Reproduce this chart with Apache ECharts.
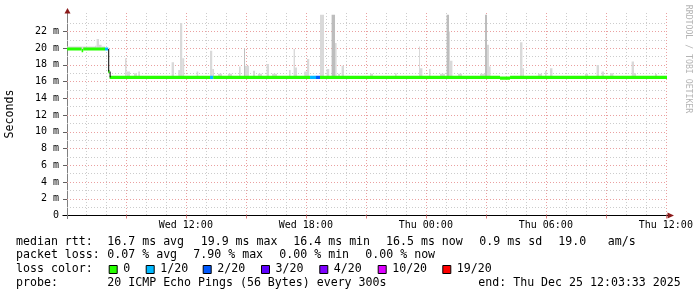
<!DOCTYPE html>
<html><head><meta charset="utf-8">
<script src="https://cdn.jsdelivr.net/npm/echarts@6/dist/echarts.min.js"></script>
<style>html,body{margin:0;padding:0;background:#fff}#c{width:697px;height:297px}</style>
</head><body><div id="c"></div>
<script>
// Time is expressed in hours since Wed 2025-12-24 00:00
const startHour = 6 + 3 / 60 + 33 / 3600;   // Wed 06:03:33
const endHour = 36 + 3 / 60 + 33 / 3600;    // Thu 12:03:33
const yMax = 24.2;

const xMajorHours = [9, 12, 15, 18, 21, 24, 27, 30, 33, 36];
const xMinorHours = [7, 8, 10, 11, 13, 14, 16, 17, 19, 20, 22, 23, 25, 26, 28, 29, 31, 32, 34, 35];
const xLabelHours = [12, 18, 24, 30, 36];
const xLabelTexts = ['Wed 12:00', 'Wed 18:00', 'Thu 00:00', 'Thu 06:00', 'Thu 12:00'];
const yLabelValues = [0, 2, 4, 6, 8, 10, 12, 14, 16, 18, 20, 22];
const yLabelTexts = ['0', '2 m', '4 m', '6 m', '8 m', '10 m', '12 m', '14 m', '16 m', '18 m', '20 m', '22 m'];
const yMajorGrid = [2, 4, 6, 8, 10, 12, 14, 16, 18, 20, 22];
const yMinorGrid = [1, 3, 5, 7, 9, 11, 13, 15, 17, 19, 21, 23];

// median rtt steps: [start hour, median ms, loss colour index]
const medianSteps = [
  [startHour, 19.9, 0], [6.79, 19.7, 0], [6.87, 19.9, 0], [7.96, 19.9, 1],
  [8.12, 17.2, 0], [8.19, 16.5, 0], [13.21, 16.5, 1], [13.37, 16.5, 0],
  [18.21, 16.5, 1], [18.51, 16.5, 2], [18.71, 16.5, 0], [27.71, 16.42, 0],
  [28.21, 16.5, 0]
];

// smoke (ping spread): [start hour, end hour, top ms]
const smokeLight = [
  [6.06, 7.46, 20.2], [7.46, 7.54, 20.3], [7.54, 7.66, 21.1], [7.66, 7.79, 20.4], [7.79, 7.96, 20.2],
  [8.96, 9.04, 18.8], [9.04, 9.21, 17.2], [9.41, 9.56, 17.0], [9.62, 9.71, 17.2],
  [11.29, 11.41, 18.3], [11.62, 11.71, 17.4], [11.71, 11.82, 23.0], [11.82, 11.92, 18.8],
  [12.54, 12.62, 17.2], [13.21, 13.32, 19.7], [13.32, 13.41, 17.5], [13.61, 13.81, 16.95],
  [14.11, 14.31, 16.95], [14.66, 14.74, 17.8], [14.96, 15.16, 17.9], [15.36, 15.46, 17.3],
  [15.61, 15.81, 16.95], [16.04, 16.16, 18.1], [16.31, 16.56, 16.95], [17.16, 17.24, 17.4],
  [17.39, 17.46, 19.9], [17.46, 17.56, 17.7], [17.92, 18.06, 17.2], [18.06, 18.17, 18.7],
  [18.71, 18.91, 24.0], [19.04, 19.17, 17.5], [19.46, 19.54, 20.6], [19.61, 19.71, 16.95],
  [19.79, 19.91, 17.9], [21.21, 21.36, 16.95], [22.46, 22.54, 17.0], [23.66, 23.71, 20.2],
  [23.71, 23.83, 17.6], [24.16, 24.24, 17.5], [24.71, 24.96, 16.95], [25.16, 25.21, 22.0],
  [25.21, 25.33, 18.5], [25.61, 25.81, 16.95], [26.71, 26.96, 16.95], [27.04, 27.16, 20.4],
  [27.16, 27.24, 17.8], [28.71, 28.83, 20.7], [28.83, 28.91, 17.6], [29.61, 29.81, 16.95],
  [29.96, 30.04, 17.3], [30.21, 30.33, 17.6], [31.96, 32.11, 16.95], [32.54, 32.66, 18.0],
  [32.79, 32.91, 17.2], [33.21, 33.38, 17.0], [34.29, 34.41, 18.4], [34.41, 34.51, 17.0],
  [35.46, 35.56, 16.9]
];
const smokeDense = [
  [14.91, 14.96, 20.0], [19.29, 19.46, 24.0], [25.04, 25.16, 24.0], [26.96, 27.06, 24.0]
];

const lossColors = ['#26ff00', '#00b8ff', '#0059ff', '#5e00ff', '#7e00ff', '#dd00ff', '#ff0000'];
const lossLabels = ['0', '1/20', '2/20', '3/20', '4/20', '10/20', '19/20'];

const legendRow1 = ['median rtt:', '16.7 ms avg', '19.9 ms max', '16.4 ms min', '16.5 ms now', '0.9 ms sd', '19.0', 'am/s'];
const legendRow2 = ['packet loss:', '0.07 % avg', '7.90 % max', '0.00 % min', '0.00 % now'];
const legendRow3Title = 'loss color:';
const legendRow4 = ['probe:', '20 ICMP Echo Pings (56 Bytes) every 300s', 'end: Thu Dec 25 12:03:33 2025'];
const yTitle = 'Seconds';
const watermark = 'RRDTOOL / TOBI OETIKER';

// ---- layout (pixel positions of legend text) ----
const row1X = [16, 107.3, 200.7, 293.3, 386, 479.3, 558.3, 607.7];
const row2X = [16, 107.3, 193.3, 279.3, 365.3];
const row4X = [16, 107.3, 478.3];
const boxX = [108.7, 145.7, 202.7, 261, 319.3, 377.7, 442.3];
const rowY = [241.7, 255.3, 269.3, 283];

const MONO = '"DejaVu Sans Mono", monospace';
const legFont = '11.6px ' + MONO;

function medianAt(t) {
  let v = medianSteps[0][1];
  for (const s of medianSteps) { if (s[0] <= t + 1e-6) v = s[1]; }
  return v;
}

const medianData = medianSteps.map((s, i) => [s[0], i + 1 < medianSteps.length ? medianSteps[i + 1][0] : endHour, s[1], s[2]]);
const smokeLightData = smokeLight.map(s => [s[0], s[1], s[2], medianAt(s[0])]);
const smokeDenseData = smokeDense.map(s => [s[0], s[1], s[2], medianAt(s[0])]);

function smokeRender(color) {
  return function (params, api) {
    const p0 = api.coord([api.value(0), api.value(2)]);
    const p1 = api.coord([api.value(1), api.value(3)]);
    return {
      type: 'rect',
      shape: { x: p0[0], y: p0[1], width: p1[0] - p0[0], height: p1[1] - p0[1] },
      style: { fill: color }
    };
  };
}

function medianRender(params, api) {
  const t0 = api.value(0), t1 = api.value(1), v = api.value(2), loss = api.value(3);
  const p0 = api.coord([t0, v]), p1 = api.coord([t1, v]);
  const children = [{
    type: 'rect',
    shape: { x: p0[0], y: p0[1] - 1.6, width: p1[0] - p0[0], height: 3.2 },
    style: { fill: lossColors[loss] }
  }];
  const i = params.dataIndex;
  if (i > 0) {
    const prev = medianSteps[i - 1][1];
    if (Math.abs(prev - v) > 0.3) {
      const pp = api.coord([t0, prev]);
      children.push({
        type: 'line',
        shape: { x1: p0[0] + 0.5, y1: pp[1], x2: p0[0] + 0.5, y2: p0[1] },
        style: { stroke: '#000', lineWidth: 1 }
      });
    }
  }
  return { type: 'group', children };
}

const graphics = [];
function addText(x, y, text) {
  graphics.push({ type: 'text', x: x, y: y, silent: true,
    style: { text: text, font: legFont, fill: '#000', verticalAlign: 'middle', align: 'left' } });
}
legendRow1.forEach((t, i) => addText(row1X[i], rowY[0], t));
legendRow2.forEach((t, i) => addText(row2X[i], rowY[1], t));
addText(16, rowY[2], legendRow3Title);
lossLabels.forEach((t, i) => {
  graphics.push({ type: 'rect', silent: true, shape: { x: boxX[i] + 0.5, y: rowY[2] - 3.8, width: 8, height: 8 },
    style: { fill: lossColors[i], stroke: '#000', lineWidth: 1 } });
  addText(boxX[i] + 14.5, rowY[2], t);
});
legendRow4.forEach((t, i) => addText(row4X[i], rowY[3], t));
graphics.push({ type: 'text', x: 10, y: 114, rotation: Math.PI / 2, silent: true,
  style: { text: yTitle, font: '11.6px ' + MONO, fill: '#000', align: 'center', verticalAlign: 'middle' } });
graphics.push({ type: 'text', x: 688, y: 59, rotation: -Math.PI / 2, silent: true,
  style: { text: watermark, font: '8.2px ' + MONO, fill: '#b4b4b4', align: 'center', verticalAlign: 'middle' } });
// axis extensions and arrows
graphics.push({ type: 'line', silent: true, shape: { x1: 62.5, y1: 215.5, x2: 668, y2: 215.5 }, style: { stroke: '#000', lineWidth: 1 } });
graphics.push({ type: 'line', silent: true, shape: { x1: 67.5, y1: 11, x2: 67.5, y2: 219 }, style: { stroke: '#808080', lineWidth: 1 } });
graphics.push({ type: 'polygon', silent: true, shape: { points: [[64.5, 13.5], [70.5, 13.5], [67.5, 8]] }, style: { fill: '#8b1a1a' } });
graphics.push({ type: 'polygon', silent: true, shape: { points: [[667.5, 212.5], [667.5, 218.5], [674, 215.5]] }, style: { fill: '#8b1a1a' } });

const axisFont = { fontFamily: MONO, fontSize: 10, color: '#000' };
const majorLine = { color: '#eaa0a0', type: [1, 2], width: 1 };
const minorLine = { color: '#cccccc', type: [1, 2], width: 1 };

const chart = echarts.init(document.getElementById('c'), null, { renderer: 'canvas' });
chart.setOption({
  animation: false,
  backgroundColor: '#fff',
  grid: { left: 67, right: 30, top: 13, bottom: 81.5, containLabel: false },
  xAxis: [{
    type: 'value', min: startHour, max: endHour, position: 'bottom',
    axisLine: { show: false },
    axisTick: { show: true, customValues: xMajorHours, length: 3, lineStyle: { color: '#e08080' } },
    axisLabel: Object.assign({ customValues: xLabelHours, margin: 5,
      formatter: v => xLabelTexts[xLabelHours.indexOf(Math.round(v))] || '' }, axisFont),
    splitLine: { show: true, lineStyle: majorLine }
  }, {
    type: 'value', min: startHour, max: endHour, position: 'top',
    axisLine: { show: false },
    axisTick: { show: false, customValues: xMinorHours },
    axisLabel: { show: false },
    splitLine: { show: true, lineStyle: minorLine }
  }],
  yAxis: [{
    type: 'value', min: 0, max: yMax, position: 'left',
    axisLine: { show: false },
    axisTick: { show: true, customValues: yMajorGrid, length: 4, lineStyle: { color: '#606060' } },
    axisLabel: Object.assign({ customValues: yLabelValues, margin: 8,
      formatter: v => yLabelTexts[yLabelValues.indexOf(Math.round(v))] || '' }, axisFont),
    splitLine: { show: true, lineStyle: majorLine }
  }, {
    type: 'value', min: 0, max: yMax, position: 'right',
    axisLine: { show: false },
    axisTick: { show: false, customValues: yMinorGrid },
    axisLabel: { show: false },
    splitLine: { show: true, lineStyle: minorLine }
  }],
  series: [{
    type: 'custom', xAxisIndex: 0, yAxisIndex: 0, clip: true, silent: true,
    renderItem: smokeRender('#d9d9d9'), encode: { x: [0, 1], y: [2, 3] }, data: smokeLightData, z: 2
  }, {
    type: 'custom', xAxisIndex: 0, yAxisIndex: 0, clip: true, silent: true,
    renderItem: smokeRender('#bdbdbd'), encode: { x: [0, 1], y: [2, 3] }, data: smokeDenseData, z: 3
  }, {
    type: 'custom', xAxisIndex: 0, yAxisIndex: 0, clip: true, silent: true,
    renderItem: medianRender, encode: { x: [0, 1], y: 2 }, data: medianData, z: 4
  }],
  graphic: graphics
});
</script></body></html>
